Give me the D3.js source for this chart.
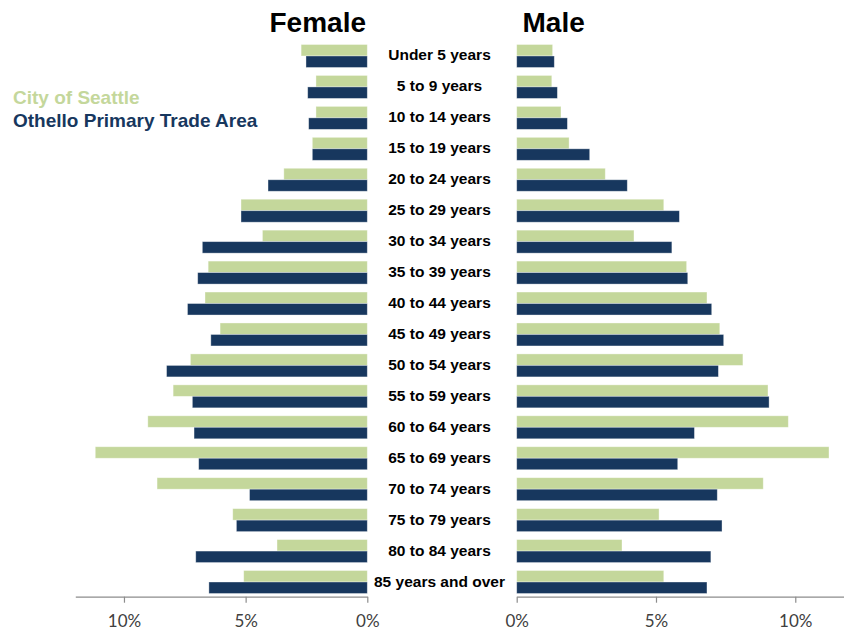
<!DOCTYPE html>
<html>
<head>
<meta charset="utf-8">
<script src="https://cdn.jsdelivr.net/npm/d3@7"></script>
<style>
  html, body { margin: 0; padding: 0; background: #fff; }
  svg { display: block; }
</style>
</head>
<body>
<div id="chart"></div>
<script>
// Age groups, youngest at the top
const ageGroups = [
  "Under 5 years", "5 to 9 years", "10 to 14 years", "15 to 19 years",
  "20 to 24 years", "25 to 29 years", "30 to 34 years", "35 to 39 years",
  "40 to 44 years", "45 to 49 years", "50 to 54 years", "55 to 59 years",
  "60 to 64 years", "65 to 69 years", "70 to 74 years", "75 to 79 years",
  "80 to 84 years", "85 years and over"
];

const seriesNames = ["City of Seattle", "Othello Primary Trade Area"];

// Share of population (%) by age group
const femaleSeattle = [2.72, 2.11, 2.11, 2.26, 3.43, 5.19, 4.31, 6.54, 6.67, 6.05, 7.27, 7.98, 9.02, 11.18, 8.64, 5.53, 3.71, 5.08];
const femaleOthello = [2.52, 2.45, 2.41, 2.26, 4.08, 5.19, 6.78, 6.97, 7.39, 6.43, 8.25, 7.19, 7.12, 6.93, 4.84, 5.38, 7.05, 6.51];
const maleSeattle   = [1.29, 1.26, 1.59, 1.88, 3.18, 5.28, 4.21, 6.10, 6.83, 7.29, 8.12, 9.02, 9.75, 11.21, 8.85, 5.11, 3.78, 5.28];
const maleOthello   = [1.35, 1.46, 1.82, 2.62, 3.97, 5.84, 5.57, 6.14, 7.00, 7.43, 7.24, 9.06, 6.38, 5.78, 7.20, 7.37, 6.97, 6.83];

const tickValues = [0, 5, 10];
const tickLabels = ["0%", "5%", "10%"];

const colors = { seattle: "#C4D79B", othello: "#17375E" };

const W = 844, H = 632;
const svg = d3.select("#chart").append("svg")
  .attr("width", W).attr("height", H)
  .style("font-family", "'Liberation Sans', Arial, sans-serif");

// Scales
const y = d3.scaleBand().domain(ageGroups).range([41, 597])
  .paddingInner(0.257).paddingOuter(0.113);
const ySub = d3.scaleBand().domain(["seattle", "othello"]).range([0, y.bandwidth()]);

const xLeft = d3.scaleLinear().domain([0, 12]).range([367.3, 75.3]);
const xRight = d3.scaleLinear().domain([0, 12]).range([516.7, 851]);

const rows = ageGroups.map((g, i) => ({
  group: g,
  female: { seattle: femaleSeattle[i], othello: femaleOthello[i] },
  male: { seattle: maleSeattle[i], othello: maleOthello[i] }
}));

const keys = ["seattle", "othello"];

// Female bars (extend leftward)
const fem = svg.append("g").attr("class", "female");
rows.forEach(r => {
  keys.forEach(k => {
    fem.append("rect")
      .attr("x", xLeft(r.female[k]))
      .attr("y", y(r.group) + ySub(k))
      .attr("width", xLeft(0) - xLeft(r.female[k]))
      .attr("height", ySub.bandwidth())
      .attr("fill", colors[k])
      .attr("stroke", "rgba(255,255,255,0.45)")
      .attr("stroke-width", 0.8);
  });
});

// Male bars (extend rightward)
const mal = svg.append("g").attr("class", "male");
rows.forEach(r => {
  keys.forEach(k => {
    mal.append("rect")
      .attr("x", xRight(0))
      .attr("y", y(r.group) + ySub(k))
      .attr("width", xRight(r.male[k]) - xRight(0))
      .attr("height", ySub.bandwidth())
      .attr("fill", colors[k])
      .attr("stroke", "rgba(255,255,255,0.45)")
      .attr("stroke-width", 0.8);
  });
});

// Age group labels in the centre column
svg.append("g").selectAll("text")
  .data(ageGroups).join("text")
  .attr("x", 439.5)
  .attr("y", d => y(d) + y.bandwidth() / 2 + 4.5)
  .attr("text-anchor", "middle")
  .attr("font-weight", "bold")
  .attr("font-size", "15.5px")
  .attr("fill", "#000")
  .text(d => d);

// Axes
const fmt = d => tickLabels[tickValues.indexOf(d)];
const axisColor = "#8c8c8c";

function styleAxis(g) {
  g.select(".domain").attr("stroke", axisColor).attr("stroke-width", 1.2);
  g.selectAll(".tick line").attr("stroke", axisColor).attr("stroke-width", 1.2);
  g.selectAll(".tick text")
    .attr("fill", "#404040")
    .attr("font-family", "Lato, 'Open Sans', sans-serif")
    .attr("font-size", "17px")
    .attr("dy", 0)
    .attr("y", 30);
}

svg.append("g")
  .attr("transform", "translate(0,596.7)")
  .call(d3.axisBottom(xLeft).tickValues(tickValues).tickFormat(fmt).tickSizeInner(6).tickSizeOuter(0))
  .call(styleAxis);

svg.append("g")
  .attr("transform", "translate(0,596.7)")
  .call(d3.axisBottom(xRight).tickValues(tickValues).tickFormat(fmt).tickSizeInner(6).tickSizeOuter(0))
  .call(styleAxis);

// Panel titles
svg.append("text")
  .attr("x", 366).attr("y", 32)
  .attr("text-anchor", "end")
  .attr("font-weight", "bold")
  .attr("font-size", "28px")
  .attr("fill", "#000")
  .text("Female");

svg.append("text")
  .attr("x", 522.5).attr("y", 32)
  .attr("text-anchor", "start")
  .attr("font-weight", "bold")
  .attr("font-size", "28px")
  .attr("fill", "#000")
  .text("Male");

// Legend as coloured text
const legend = svg.append("g");
legend.append("text")
  .attr("x", 13).attr("y", 103.5)
  .attr("font-weight", "bold").attr("font-size", "19px")
  .attr("fill", colors.seattle)
  .text(seriesNames[0]);
legend.append("text")
  .attr("x", 13).attr("y", 126.5)
  .attr("font-weight", "bold").attr("font-size", "19px")
  .attr("fill", colors.othello)
  .text(seriesNames[1]);
</script>
</body>
</html>
